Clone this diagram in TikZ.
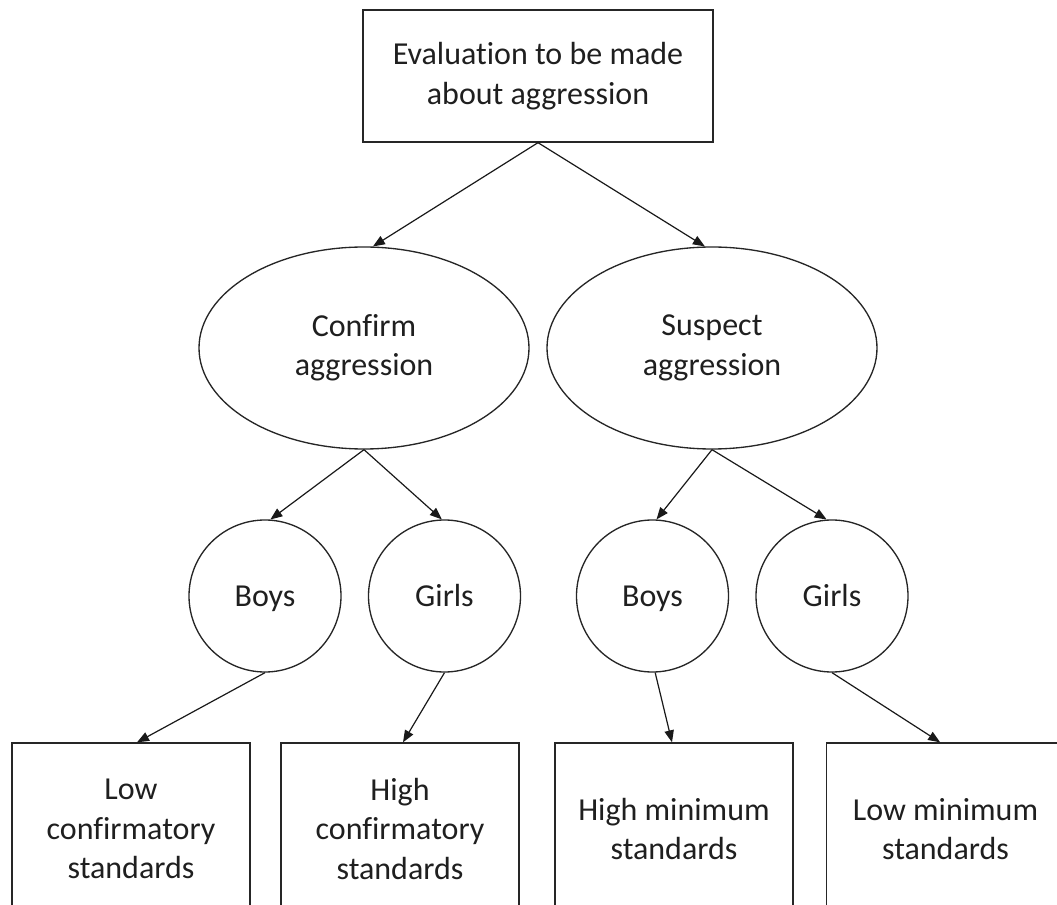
\documentclass[tikz,border=0pt]{standalone}
\usepackage{fontspec}
\setmainfont{Carlito}[Ligatures={NoCommon}]
\usetikzlibrary{shapes.geometric,arrows.meta,calc}
\begin{document}
\begin{tikzpicture}[x=0.75pt,y=-0.75pt,
  every node/.style={font=\fontsize{24pt}{29.5pt}\selectfont, text=black!88, align=center, inner sep=0pt},
  outline/.style={draw=black!85, line width=1pt},
  topbox/.style={outline, rectangle, minimum width=350*0.75pt, minimum height=132*0.75pt},
  oval/.style={outline, ellipse, minimum width=330*0.75pt, minimum height=202*0.75pt},
  round/.style={outline, circle, minimum size=152*0.75pt, text height=18pt, text depth=2pt},
  leafbox/.style={outline, rectangle, minimum width=238*0.75pt, minimum height=172*0.75pt},
  link/.style={draw=black!90, line width=0.9pt, -{Triangle[length=9pt,width=7pt]}}
]
\useasboundingbox (0,0) rectangle (1057,905);
\clip (0,0) rectangle (1057,905);
\node[topbox] (top) at (538,76) {Evaluation to be made\\about aggression};
\node[oval] (c1) at (364,348) {Confirm\\aggression};
\node[oval] (c2) at (712,348) {Suspect\\aggression};
\node[round] (b1) at (265,596) {Boys};
\node[round] (g1) at (444.5,596) {Girls};
\node[round] (b2) at (652.5,596) {Boys};
\node[round] (g2) at (832,596) {Girls};
\node[leafbox] (l1) at (131,829) {Low\\confirmatory\\standards};
\node[leafbox] (l2) at (400,829) {High\\confirmatory\\standards};
\node[leafbox] (l3) at (674,829) {High minimum\\standards};
\node[leafbox] (l4) at (945.5,829) {Low minimum\\standards};
\draw[link] (top.south) -- (c1.85);
\draw[link] (top.south) -- (c2.94);
\draw[link] (c1.south) -- (b1.86);
\draw[link] (c1.south) -- (g1.92);
\draw[link] (c2.south) -- (b2.87);
\draw[link] (c2.south) -- (g2.94);
\draw[link] (b1.south) -- ([xshift=4.5pt]l1.north);
\draw[link] (g1.south) -- ([xshift=2.25pt]l2.north);
\draw[link] (b2.272) -- ([xshift=-1.5pt]l3.north);
\draw[link] (g2.south) -- ([xshift=-4pt]l4.north);
\end{tikzpicture}
\end{document}
